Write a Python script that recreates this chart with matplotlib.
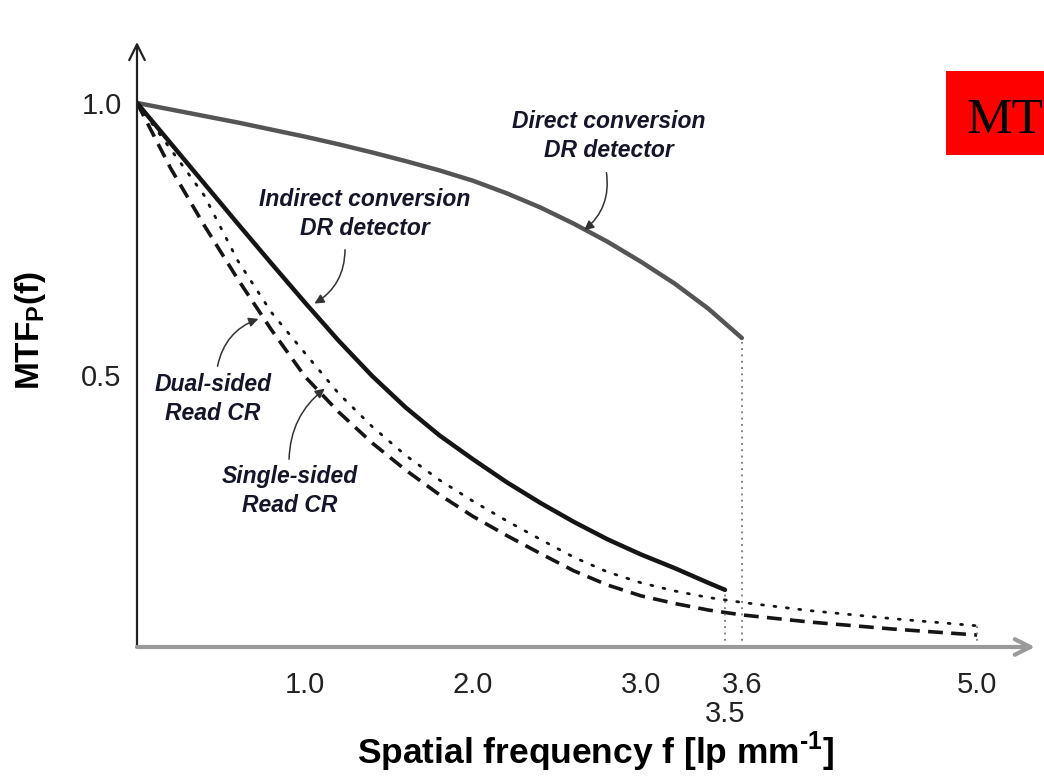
import matplotlib
matplotlib.use("Agg")
import matplotlib.pyplot as plt
from matplotlib.patches import Rectangle

# ---------------------------------------------------------------------------
# Data
# ---------------------------------------------------------------------------
direct_f = [0.0, 0.2, 0.4, 0.6, 0.8, 1.0, 1.2, 1.4, 1.6, 1.8, 2.0, 2.2,
            2.4, 2.6, 2.8, 3.0, 3.2, 3.4, 3.6]
direct_mtf = [1.0, 0.988, 0.976, 0.964, 0.951, 0.938, 0.924, 0.909, 0.893,
              0.876, 0.857, 0.834, 0.808, 0.778, 0.745, 0.708, 0.668, 0.622,
              0.568]

indirect_f = [0.0, 0.2, 0.4, 0.6, 0.8, 1.0, 1.2, 1.4, 1.6, 1.8, 2.0, 2.2,
              2.4, 2.6, 2.8, 3.0, 3.2, 3.4, 3.5]
indirect_mtf = [1.0, 0.926, 0.852, 0.778, 0.705, 0.633, 0.563, 0.498, 0.440,
                0.389, 0.345, 0.303, 0.265, 0.230, 0.198, 0.170, 0.145, 0.118,
                0.105]

dual_f = [0.0, 0.2, 0.4, 0.6, 0.8, 1.0, 1.2, 1.4, 1.6, 1.8, 2.0, 2.2, 2.4,
          2.6, 2.8, 3.0, 3.2, 3.4, 3.6, 4.0, 4.5, 5.0]
dual_mtf = [1.0, 0.88, 0.775, 0.676, 0.583, 0.497, 0.432, 0.375, 0.325,
            0.280, 0.240, 0.205, 0.172, 0.140, 0.114, 0.094, 0.080, 0.068,
            0.059, 0.046, 0.033, 0.022]

single_f = [0.0, 0.2, 0.4, 0.6, 0.8, 1.0, 1.2, 1.4, 1.6, 1.8, 2.0, 2.2, 2.4,
            2.6, 2.8, 3.0, 3.2, 3.4, 3.6, 4.0, 4.5, 5.0]
single_mtf = [1.0, 0.915, 0.83, 0.71, 0.615, 0.54, 0.466, 0.405, 0.352,
              0.307, 0.268, 0.232, 0.198, 0.165, 0.138, 0.118, 0.103, 0.091,
              0.082, 0.067, 0.052, 0.039]

xtick_vals = [1.0, 2.0, 3.0, 3.6, 5.0]
xtick_labels = ["1.0", "2.0", "3.0", "3.6", "5.0"]
ytick_vals = [0.5, 1.0]
ytick_labels = ["0.5", "1.0"]

# ---------------------------------------------------------------------------
# Figure
# ---------------------------------------------------------------------------
plt.rcParams["font.family"] = ["Liberation Sans", "DejaVu Sans"]
plt.rcParams["mathtext.fontset"] = "custom"
plt.rcParams["mathtext.rm"] = "Liberation Sans"
plt.rcParams["mathtext.bf"] = "Liberation Sans:bold"

W, H = 1044, 776
fig = plt.figure(figsize=(W / 100, H / 100), dpi=100)
ax = fig.add_axes([137 / W, 129 / H, 898 / W, 605 / H])
ax.set_xlim(0, 5.345)
ax.set_ylim(0, 1.112)
for s in ax.spines.values():
    s.set_visible(False)

# axes with open arrow heads
ax.annotate("", xy=(0, 1), xytext=(0, 0), xycoords="axes fraction",
            arrowprops=dict(arrowstyle="->", lw=1.6, color="#222222",
                            mutation_scale=28, shrinkA=0, shrinkB=0))
ax.annotate("", xy=(1, 0), xytext=(0, 0), xycoords="axes fraction",
            arrowprops=dict(arrowstyle="->", lw=3, color="#9a9a9a",
                            mutation_scale=28, shrinkA=0, shrinkB=0))

# curves
ax.plot(direct_f, direct_mtf, color="#555555", lw=3.2, solid_capstyle="round")
ax.plot(indirect_f, indirect_mtf, color="#151515", lw=3.2, solid_capstyle="round")
ax.plot(dual_f, dual_mtf, color="#151515", lw=2.6, dashes=(4.1, 2.3))
ax.plot(single_f, single_mtf, color="#151515", lw=2.0, dashes=(0.7, 3.8),
        dash_capstyle="round")

# dotted drop lines at curve ends
drop = dict(color="#777777", lw=1.3, ls=(0, (1, 2.5)))
ax.plot([3.5, 3.5], [0, indirect_mtf[-1]], **drop)
ax.plot([3.6, 3.6], [0, direct_mtf[-1]], **drop)
ax.plot([5.0, 5.0], [0, single_mtf[-1]], **drop)

# ticks
ax.set_xticks(xtick_vals, xtick_labels)
ax.set_xticks([3.5], ["3.5"], minor=True)
ax.set_yticks(ytick_vals, ytick_labels)
ax.tick_params(which="both", length=0, labelsize=21, colors="#222222")
ax.tick_params(axis="x", which="major", pad=17)
ax.tick_params(axis="x", which="minor", pad=38)
ax.tick_params(axis="y", pad=11)

fig.text(596 / W, 1 - 752 / H,
         "Spatial frequency f [lp mm$^{\\mathbf{\u2010}\\mathbf{1}}$]",
         ha="center", va="center", fontsize=25.5, fontweight="bold")
fig.text(30 / W, 1 - 330 / H, "MTF$_{\\mathbf{P}}$(f)", rotation=90,
         ha="center", va="center", fontsize=24, fontweight="bold")

# annotations
tstyle = dict(fontsize=16.5, fontweight="bold", style="italic", color="#15152a",
              ha="center", va="center", linespacing=1.3)
aprops = dict(arrowstyle="-|>", lw=1.1, color="#333333", mutation_scale=14)


def px(x, y):
    return ((x - 137) / 168.0, (647 - y) / 544.0)


ax.text(*px(609, 136), "Direct conversion\nDR detector", **tstyle)
ax.annotate("", xy=px(582, 232), xytext=px(606, 170),
            arrowprops=dict(connectionstyle="arc3,rad=-0.3", **aprops))

ax.text(*px(365, 214), "Indirect conversion\nDR detector", **tstyle)
ax.annotate("", xy=px(312, 305), xytext=px(345, 247),
            arrowprops=dict(connectionstyle="arc3,rad=-0.3", **aprops))

ax.text(*px(213, 399), "Dual-sided\nRead CR", **tstyle)
ax.annotate("", xy=px(261, 318), xytext=px(217, 369),
            arrowprops=dict(connectionstyle="arc3,rad=-0.3", **aprops))

ax.text(*px(290, 491), "Single-sided\nRead CR", **tstyle)
ax.annotate("", xy=px(327, 387), xytext=px(289, 462),
            arrowprops=dict(connectionstyle="arc3,rad=-0.25", **aprops))

# red box at top right
fig.patches.append(Rectangle((946 / W, 1 - 155 / H), 110 / W, 84 / H,
                             transform=fig.transFigure, facecolor="#ff0000",
                             edgecolor="none"))
fig.text(966 / W, 1 - 133 / H, "MT", fontsize=37, family="Liberation Serif",
         color="black", ha="left", va="baseline")

fig.savefig("out.png", dpi=100)
